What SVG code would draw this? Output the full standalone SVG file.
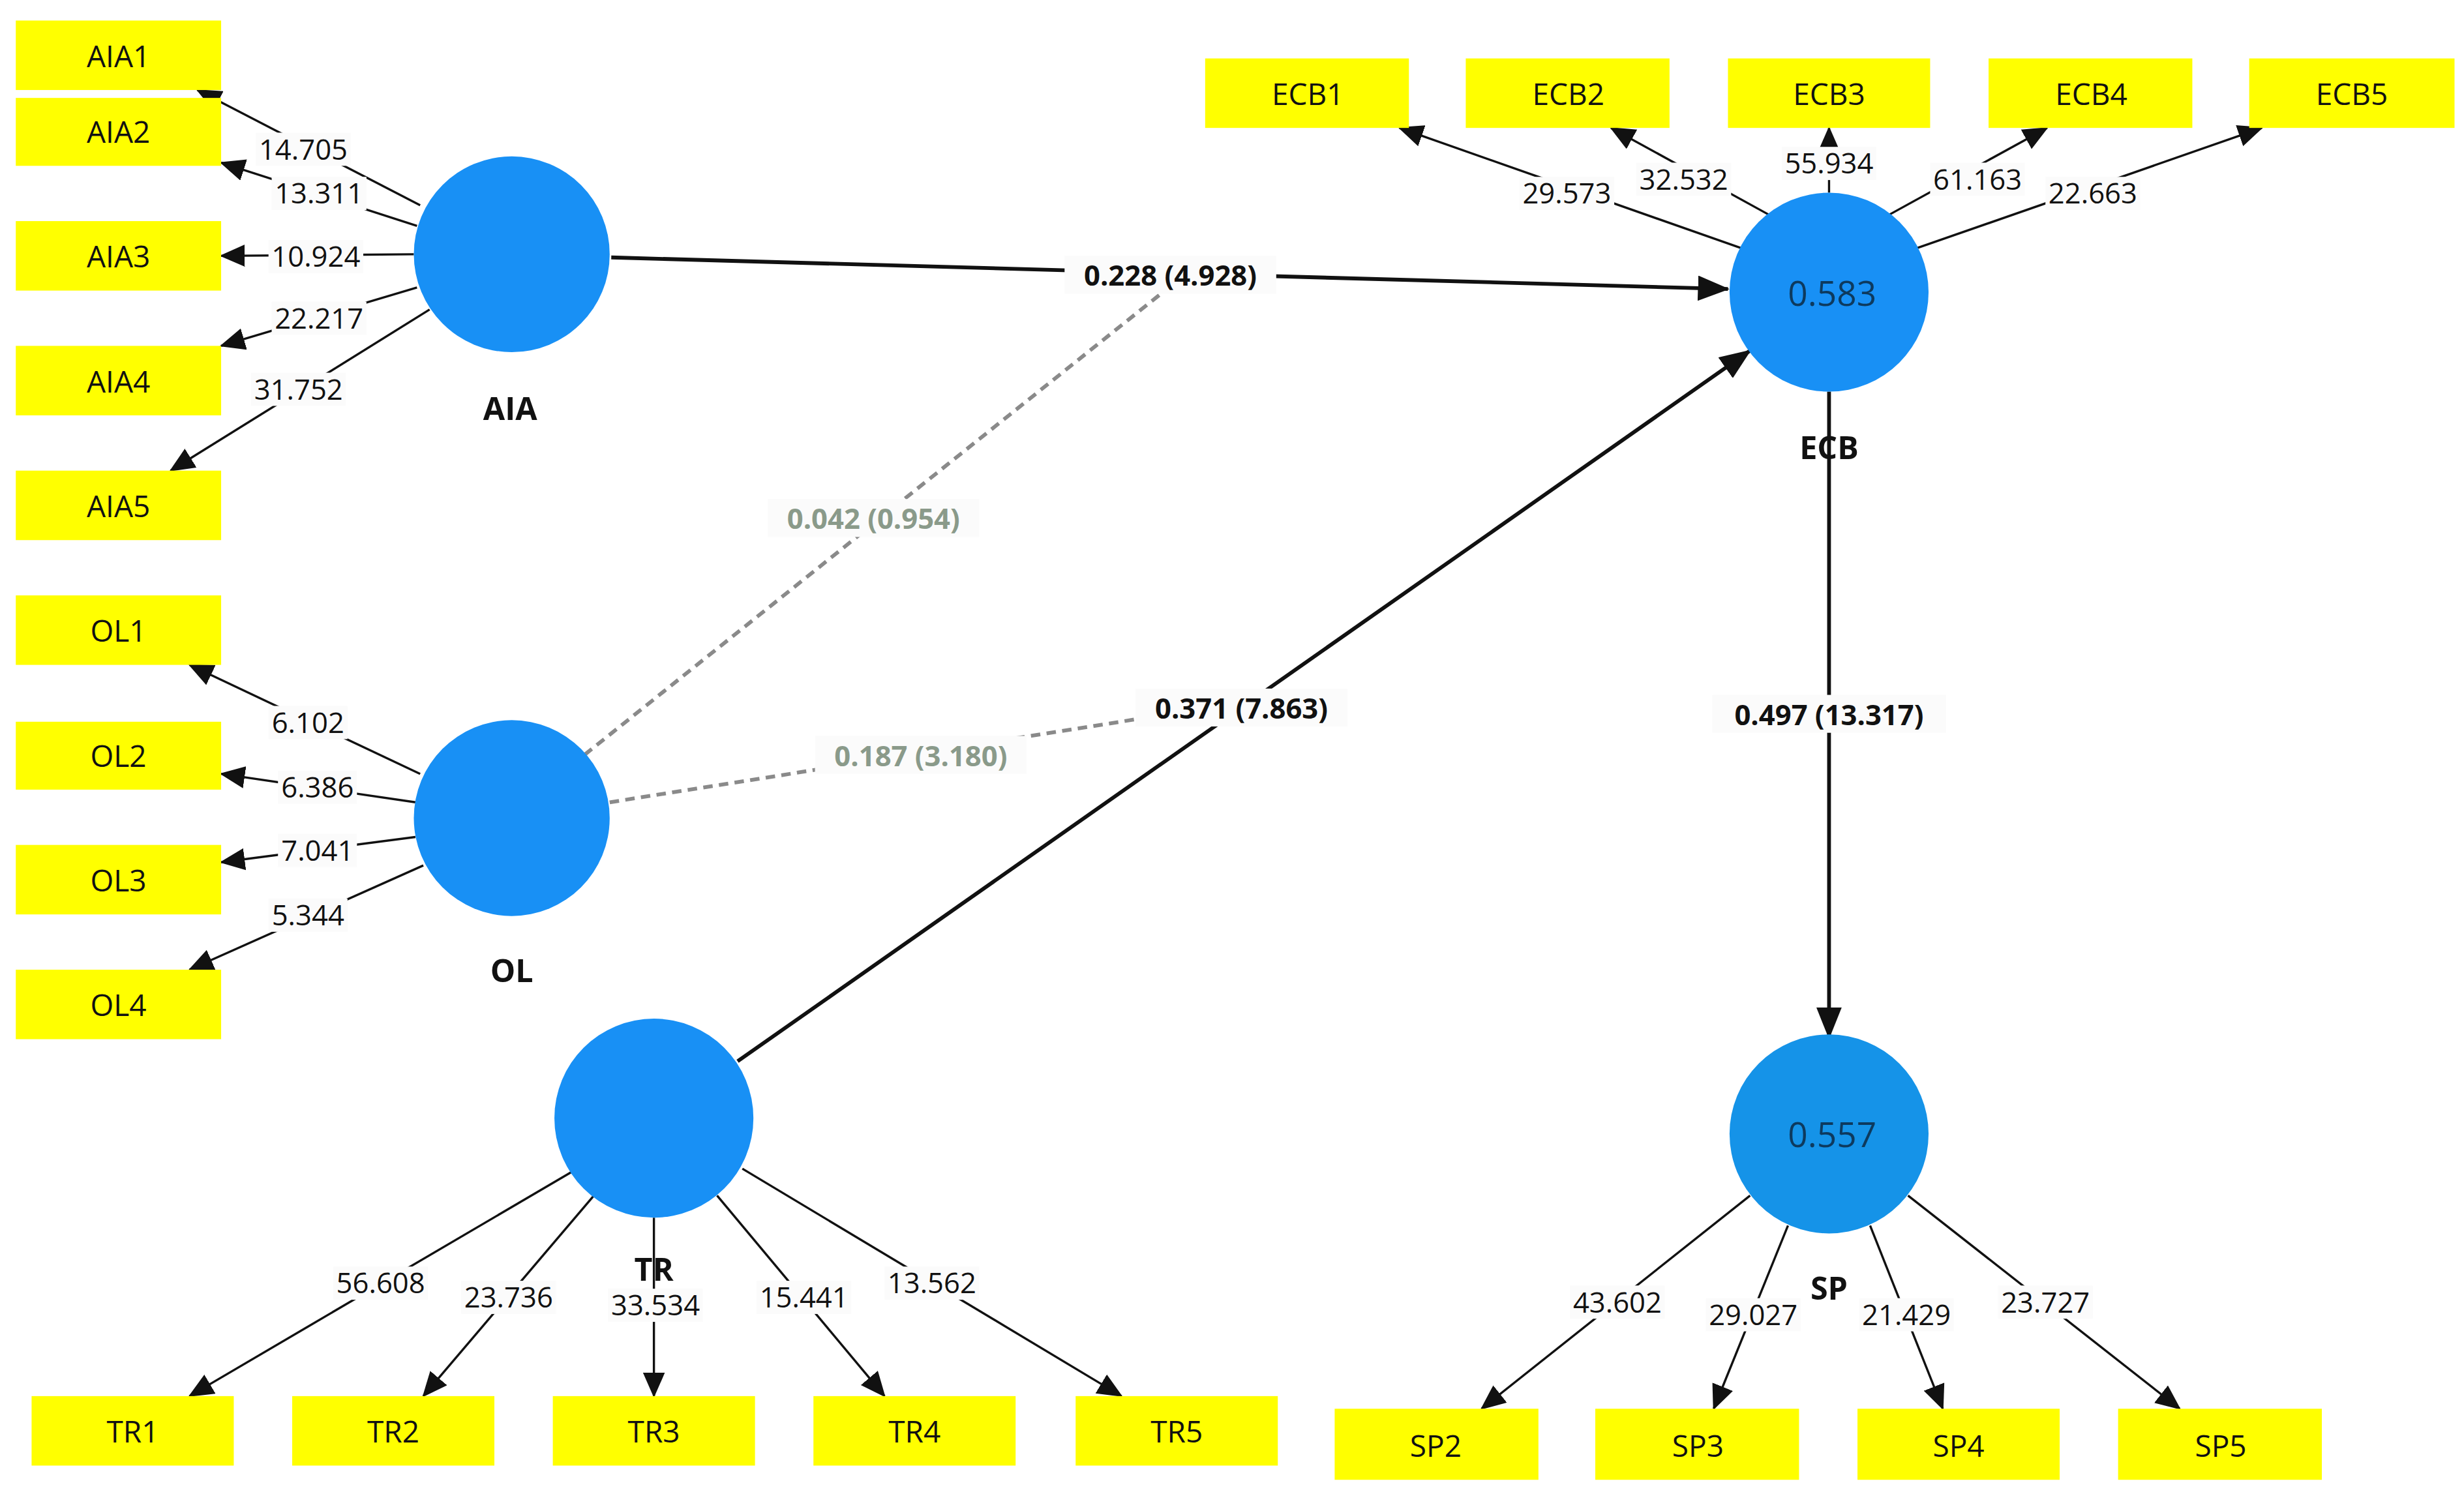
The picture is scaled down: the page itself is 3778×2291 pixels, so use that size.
<svg xmlns="http://www.w3.org/2000/svg" width="3778" height="2291" viewBox="0 0 3778 2291">
<style>
.box{fill:#ffff00}
.bt{font-family:"Open Sans","Liberation Sans",sans-serif;font-size:19px;text-anchor:middle;dominant-baseline:central;fill:#111}
.lv{fill:#1890f5}
.lt{font-family:"Open Sans","Liberation Sans",sans-serif;font-size:20px;font-weight:bold;text-anchor:middle;dominant-baseline:central;fill:#111}
.r2{font-family:"Open Sans","Liberation Sans",sans-serif;font-size:22px;text-anchor:middle;dominant-baseline:central;fill:#0d3a5e}
.ln{stroke:#111;stroke-width:1.4;fill:none;marker-end:url(#ah)}
.pl{stroke:#111;stroke-width:2.4;fill:none;marker-end:url(#ah2)}
.dl{stroke:#8a8a8a;stroke-width:2.4;stroke-dasharray:6,4;fill:none}
.bg{fill:#fbfbfb}
.nt{font-family:"Open Sans","Liberation Sans",sans-serif;font-size:18px;text-anchor:middle;dominant-baseline:central;fill:#111}
.pt{font-family:"Open Sans","Liberation Sans",sans-serif;font-size:18px;font-weight:bold;text-anchor:middle;dominant-baseline:central;fill:#111}
.gt{fill:#8a9a8a}
</style>
<defs>
<marker id="ah" markerUnits="userSpaceOnUse" markerWidth="16" markerHeight="14" refX="15" refY="7" orient="auto"><path d="M0,0 L16,7 L0,14 Z" fill="#111"/></marker>
<marker id="ah2" markerUnits="userSpaceOnUse" markerWidth="20" markerHeight="16" refX="19" refY="8" orient="auto"><path d="M0,0 L20,8 L0,16 Z" fill="#111"/></marker>
</defs>
<rect width="3778" height="2291" fill="#fff"/>
<g transform="scale(2.4218)">
<g id="connectors">
<line class="dl" x1="370" y1="478" x2="735" y2="186"/>
<line class="dl" x1="386" y1="508" x2="722" y2="455"/>
<line class="pl" x1="387" y1="163" x2="1094" y2="183"/>
<line class="pl" x1="467" y1="672" x2="1108" y2="222"/>
<line class="pl" x1="1158" y1="248" x2="1158" y2="657"/>
<line class="ln" x1="266" y1="130" x2="125" y2="57"/>
<line class="ln" x1="264" y1="143" x2="140" y2="103"/>
<line class="ln" x1="262" y1="161" x2="140" y2="162"/>
<line class="ln" x1="264" y1="182" x2="140" y2="219"/>
<line class="ln" x1="272" y1="196" x2="108" y2="298"/>
<line class="ln" x1="266" y1="490" x2="120" y2="421"/>
<line class="ln" x1="263" y1="508" x2="140" y2="490"/>
<line class="ln" x1="263" y1="530" x2="140" y2="546"/>
<line class="ln" x1="268" y1="548" x2="120" y2="614"/>
<line class="ln" x1="362" y1="742" x2="120" y2="884"/>
<line class="ln" x1="376" y1="757" x2="268" y2="884"/>
<line class="ln" x1="414" y1="771" x2="414" y2="884"/>
<line class="ln" x1="454" y1="757" x2="560" y2="884"/>
<line class="ln" x1="470" y1="740" x2="710" y2="884"/>
<line class="ln" x1="1102" y1="157" x2="886" y2="81"/>
<line class="ln" x1="1120" y1="136" x2="1020" y2="81"/>
<line class="ln" x1="1158" y1="122" x2="1158" y2="81"/>
<line class="ln" x1="1196" y1="136" x2="1296" y2="81"/>
<line class="ln" x1="1214" y1="157" x2="1432" y2="81"/>
<line class="ln" x1="1108" y1="757" x2="938" y2="892"/>
<line class="ln" x1="1132" y1="776" x2="1085" y2="892"/>
<line class="ln" x1="1184" y1="776" x2="1230" y2="892"/>
<line class="ln" x1="1208" y1="757" x2="1380" y2="892"/>
<g class="bg">
<rect x="674" y="162" width="134" height="24"/>
<rect x="486" y="316" width="134" height="24"/>
<rect x="516" y="466" width="134" height="24"/>
<rect x="719" y="436" width="134" height="24"/>
<rect x="1084" y="440" width="148" height="24"/>
<rect x="162" y="84" width="60" height="21"/><rect x="172" y="112" width="60" height="21"/><rect x="170" y="152" width="60" height="21"/><rect x="172" y="191" width="60" height="21"/><rect x="159" y="236" width="60" height="21"/>
<rect x="170" y="447" width="50" height="21"/><rect x="176" y="488" width="50" height="21"/><rect x="176" y="528" width="50" height="21"/><rect x="170" y="569" width="50" height="21"/>
<rect x="211" y="802" width="60" height="21"/><rect x="292" y="811" width="60" height="21"/><rect x="385" y="816" width="60" height="21"/><rect x="479" y="811" width="60" height="21"/><rect x="560" y="802" width="60" height="21"/>
<rect x="962" y="112" width="60" height="21"/><rect x="1036" y="103" width="60" height="21"/><rect x="1128" y="93" width="60" height="21"/><rect x="1222" y="103" width="60" height="21"/><rect x="1295" y="112" width="60" height="21"/>
<rect x="994" y="814" width="60" height="21"/><rect x="1080" y="822" width="60" height="21"/><rect x="1177" y="822" width="60" height="21"/><rect x="1265" y="814" width="60" height="21"/>
</g>
<text class="pt" x="741" y="174">0.228 (4.928)</text>
<text class="pt gt" x="553" y="328">0.042 (0.954)</text>
<text class="pt gt" x="583" y="478">0.187 (3.180)</text>
<text class="pt" x="786" y="448">0.371 (7.863)</text>
<text class="pt" x="1158" y="452">0.497 (13.317)</text>
<text class="nt" x="192" y="94">14.705</text>
<text class="nt" x="202" y="122">13.311</text>
<text class="nt" x="200" y="162">10.924</text>
<text class="nt" x="202" y="201">22.217</text>
<text class="nt" x="189" y="246">31.752</text>
<text class="nt" x="195" y="457">6.102</text>
<text class="nt" x="201" y="498">6.386</text>
<text class="nt" x="201" y="538">7.041</text>
<text class="nt" x="195" y="579">5.344</text>
<text class="nt" x="241" y="812">56.608</text>
<text class="nt" x="322" y="821">23.736</text>
<text class="nt" x="415" y="826">33.534</text>
<text class="nt" x="509" y="821">15.441</text>
<text class="nt" x="590" y="812">13.562</text>
<text class="nt" x="992" y="122">29.573</text>
<text class="nt" x="1066" y="113">32.532</text>
<text class="nt" x="1158" y="103">55.934</text>
<text class="nt" x="1252" y="113">61.163</text>
<text class="nt" x="1325" y="122">22.663</text>
<text class="nt" x="1024" y="824">43.602</text>
<text class="nt" x="1110" y="832">29.027</text>
<text class="nt" x="1207" y="832">21.429</text>
<text class="nt" x="1295" y="824">23.727</text>
</g>
<g id="AIA"><circle class="lv" cx="324" cy="161" r="62"/><text class="lt" x="323" y="258">AIA</text></g>
<g id="OL"><circle class="lv" cx="324" cy="518" r="62"/><text class="lt" x="324" y="614">OL</text></g>
<g id="TR"><circle class="lv" cx="414" cy="708" r="63"/><text class="lt" x="414" y="803">TR</text></g>
<g id="ECB"><circle class="lv" cx="1158" cy="185" r="63"/><text class="r2" x="1160" y="185">0.583</text><text class="lt" x="1158" y="283">ECB</text></g>
<g id="SP"><circle class="lv" cx="1158" cy="718" r="63" style="fill:#1593e8"/><text class="r2" x="1160" y="718">0.557</text><text class="lt" x="1158" y="815">SP</text></g>
<g id="AIA1"><rect class="box" x="10" y="13" width="130" height="44"/><text class="bt" x="75" y="35">AIA1</text></g>
<g id="AIA2"><rect class="box" x="10" y="62" width="130" height="43"/><text class="bt" x="75" y="83">AIA2</text></g>
<g id="AIA3"><rect class="box" x="10" y="140" width="130" height="44"/><text class="bt" x="75" y="162">AIA3</text></g>
<g id="AIA4"><rect class="box" x="10" y="219" width="130" height="44"/><text class="bt" x="75" y="241">AIA4</text></g>
<g id="AIA5"><rect class="box" x="10" y="298" width="130" height="44"/><text class="bt" x="75" y="320">AIA5</text></g>
<g id="OL1"><rect class="box" x="10" y="377" width="130" height="44"/><text class="bt" x="75" y="399">OL1</text></g>
<g id="OL2"><rect class="box" x="10" y="457" width="130" height="43"/><text class="bt" x="75" y="478">OL2</text></g>
<g id="OL3"><rect class="box" x="10" y="535" width="130" height="44"/><text class="bt" x="75" y="557">OL3</text></g>
<g id="OL4"><rect class="box" x="10" y="614" width="130" height="44"/><text class="bt" x="75" y="636">OL4</text></g>
<g id="TR1"><rect class="box" x="20" y="884" width="128" height="44"/><text class="bt" x="84" y="906">TR1</text></g>
<g id="TR2"><rect class="box" x="185" y="884" width="128" height="44"/><text class="bt" x="249" y="906">TR2</text></g>
<g id="TR3"><rect class="box" x="350" y="884" width="128" height="44"/><text class="bt" x="414" y="906">TR3</text></g>
<g id="TR4"><rect class="box" x="515" y="884" width="128" height="44"/><text class="bt" x="579" y="906">TR4</text></g>
<g id="TR5"><rect class="box" x="681" y="884" width="128" height="44"/><text class="bt" x="745" y="906">TR5</text></g>
<g id="ECB1"><rect class="box" x="763" y="37" width="129" height="44"/><text class="bt" x="828" y="59">ECB1</text></g>
<g id="ECB2"><rect class="box" x="928" y="37" width="129" height="44"/><text class="bt" x="993" y="59">ECB2</text></g>
<g id="ECB3"><rect class="box" x="1094" y="37" width="128" height="44"/><text class="bt" x="1158" y="59">ECB3</text></g>
<g id="ECB4"><rect class="box" x="1259" y="37" width="129" height="44"/><text class="bt" x="1324" y="59">ECB4</text></g>
<g id="ECB5"><rect class="box" x="1424" y="37" width="130" height="44"/><text class="bt" x="1489" y="59">ECB5</text></g>
<g id="SP2"><rect class="box" x="845" y="892" width="129" height="45"/><text class="bt" x="909" y="915">SP2</text></g>
<g id="SP3"><rect class="box" x="1010" y="892" width="129" height="45"/><text class="bt" x="1075" y="915">SP3</text></g>
<g id="SP4"><rect class="box" x="1176" y="892" width="128" height="45"/><text class="bt" x="1240" y="915">SP4</text></g>
<g id="SP5"><rect class="box" x="1341" y="892" width="129" height="45"/><text class="bt" x="1406" y="915">SP5</text></g>
</g>
</svg>
